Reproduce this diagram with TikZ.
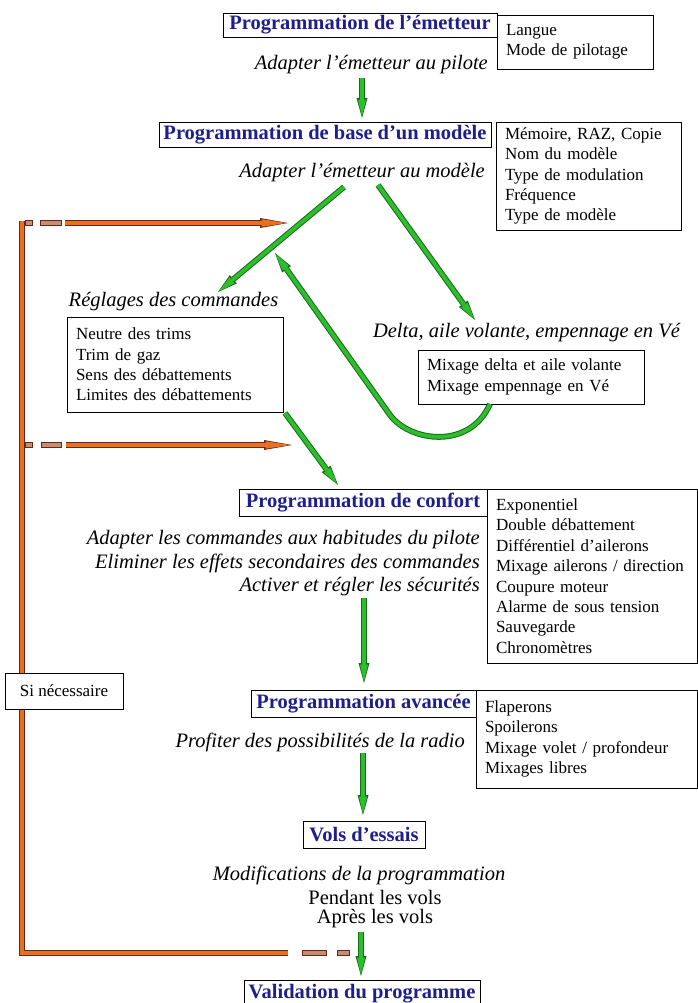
\documentclass[tikz,border=0pt]{standalone}
\usepackage{fontspec}
\setmainfont{Liberation Serif}
\usetikzlibrary{arrows.meta}
\definecolor{hblue}{RGB}{30,30,140}
\definecolor{gfill}{RGB}{45,190,45}
\definecolor{gline}{RGB}{25,105,25}
\definecolor{ofill}{RGB}{232,112,32}
\definecolor{odark}{RGB}{100,40,25}
\definecolor{odash}{RGB}{200,140,115}
\begin{document}
\begin{tikzpicture}[x=1pt,y=-1pt,
  head/.style={draw, line width=0.9pt, fill=white, font=\fontsize{20.5}{24}\selectfont\bfseries, text=hblue, inner sep=0pt},
  list/.style={draw, line width=0.9pt, fill=white, align=left, font=\fontsize{17}{20.4}\selectfont, inner xsep=9pt, inner ysep=0pt},
  note/.style={font=\fontsize{20.5}{23.5}\selectfont\itshape, inner sep=0pt},
  plain/.style={font=\fontsize{20.5}{23.5}\selectfont, inner sep=0pt},
  garrow/.style={draw=gfill, line width=3.8pt, -{Triangle[length=17pt,width=8pt,line width=0pt]}, shorten >=1.4pt,
     preaction={draw=gline, line width=5.8pt, -{Triangle[length=20pt,width=11pt,line width=0pt]}, shorten >=0pt}},
  oarrow/.style={draw=ofill, line width=3.6pt, -{Triangle[length=25pt,width=7.5pt,line width=0pt]}, shorten >=1.4pt,
     preaction={draw=odark, line width=5.6pt, -{Triangle[length=28pt,width=10pt,line width=0pt]}, shorten >=0pt}},
  orangeline/.style={draw=ofill, line width=3.6pt, preaction={draw=odark, line width=5.6pt}},
  odashbox/.style={fill=odash, draw=odark, line width=0.9pt}
]
\useasboundingbox (0,0) rectangle (698,1003);
\fill[white] (0,0) rectangle (698,1003);
\clip (0,0) rectangle (698,1003);

% orange feedback loop (drawn first, behind boxes)
\coordinate (oc1) at (22,221);
\coordinate (oc2) at (22,953);
\coordinate (ob) at (288,953);
\coordinate (oa1s) at (65,223);
\coordinate (oa1e) at (288,223);
\coordinate (oa2s) at (66,445);
\coordinate (oa2e) at (292,445);
\draw[orangeline] (ob) -- (oc2) -- (oc1);
\draw[oarrow] (oa1s) -- (oa1e);
\draw[oarrow] (oa2s) -- (oa2e);
\draw[odashbox] (25,220.5) rectangle (32,225.5);
\draw[odashbox] (40,220.5) rectangle (61,225.5);
\draw[odashbox] (25,442.5) rectangle (32,447.5);
\draw[odashbox] (41,442.5) rectangle (61,447.5);
\draw[odashbox] (302,950.5) rectangle (326,955.5);
\draw[odashbox] (337,950.5) rectangle (349,955.5);

% headers
\node[head, minimum width=274pt, minimum height=24pt] (h1) at (360,25) {Programmation de l'émetteur};
\node[head, minimum width=332pt, minimum height=25pt] (h2) at (325,134.5) {Programmation de base d'un modèle};
\node[head, minimum width=248pt, minimum height=27pt] (h3) at (363,502.5) {Programmation de confort};
\node[head, minimum width=225pt, minimum height=27pt] (h4) at (363.5,703.5) {Programmation avancée};
\node[head, minimum width=122pt, minimum height=27pt] (h5) at (364,834.5) {Vols d'essais};
\node[head, minimum width=236pt, minimum height=28pt] (h6) at (362,994) {Validation du programme};

% list boxes
\node[list, text width=138pt, minimum height=54pt] (r1) at (575,42) {Langue\\Mode de pilotage};
\node[list, text width=167pt, minimum height=108pt] (r2) at (588.5,176) {Mémoire, RAZ, Copie\\Nom du modèle\\Type de modulation\\Fréquence\\Type de modèle};
\node[list, text width=198pt, minimum height=95pt] (rn) at (175,364.5) {Neutre des trims\\Trim de gaz\\Sens des débattements\\Limites des débattements};
\node[list, text width=208pt, minimum height=54pt] (rm) at (531,377) {Mixage delta et aile volante\\Mixage empennage en Vé};
\node[list, text width=192pt, minimum height=174pt] (rc) at (592,576) {Exponentiel\\Double débattement\\Différentiel d'ailerons\\Mixage ailerons / direction\\Coupure moteur\\Alarme de sous tension\\Sauvegarde\\Chronomètres};
\node[list, text width=203pt, minimum height=98pt] (ra) at (586.5,739) {Flaperons\\Spoilerons\\Mixage volet / profondeur\\Mixages libres};
\node[draw, line width=0.9pt, fill=white, font=\fontsize{17}{20}\selectfont, minimum width=118pt, minimum height=36pt, inner sep=0pt] (sin) at (64,691) {Si nécessaire};

% italic notes
\node[note, anchor=east] (n1) at (488,65) {Adapter l'émetteur au pilote};
\node[note, anchor=east] (n2) at (485,173) {Adapter l'émetteur au modèle};
\node[note] (n3) at (173.5,302) {Réglages des commandes};
\node[note] (n4) at (526.5,333) {Delta, aile volante, empennage en Vé};
\node[note, anchor=east, align=right] (n5) at (480,563.5) {Adapter les commandes aux habitudes du pilote\\Eliminer les effets secondaires des commandes\\Activer et régler les sécurités};
\node[note, anchor=east] (n6) at (465,742) {Profiter des possibilités de la radio};
\node[note] (n7) at (359,875) {Modifications de la programmation};
\node[plain] (p1) at (375,897) {Pendant les vols};
\node[plain] (p2) at (375,919) {Après les vols};

% green arrows
\coordinate (g1a) at (362,78);  \coordinate (g1b) at (362,118);
\coordinate (g2a) at (344,187); \coordinate (g2b) at (218,292);
\coordinate (g3a) at (378,185); \coordinate (g3b) at (475,320);
\coordinate (g4a) at (490,404); \coordinate (g4m) at (390,415); \coordinate (g4b) at (275,253);
\coordinate (g5a) at (285,413); \coordinate (g5b) at (338,485);
\coordinate (g6a) at (364,598); \coordinate (g6b) at (364,683);
\coordinate (g7a) at (363,753); \coordinate (g7b) at (363,815);
\coordinate (g8a) at (361,932); \coordinate (g8b) at (361,976);
\draw[garrow] (g1a) -- (g1b);
\draw[garrow] (g2a) -- (g2b);
\draw[garrow] (g3a) -- (g3b);
\draw[garrow] (g4a) .. controls (470,450) and (410,442) .. (g4m) -- (g4b);
\draw[garrow] (g5a) -- (g5b);
\draw[garrow] (g6a) -- (g6b);
\draw[garrow] (g7a) -- (g7b);
\draw[garrow] (g8a) -- (g8b);
\end{tikzpicture}
\end{document}
